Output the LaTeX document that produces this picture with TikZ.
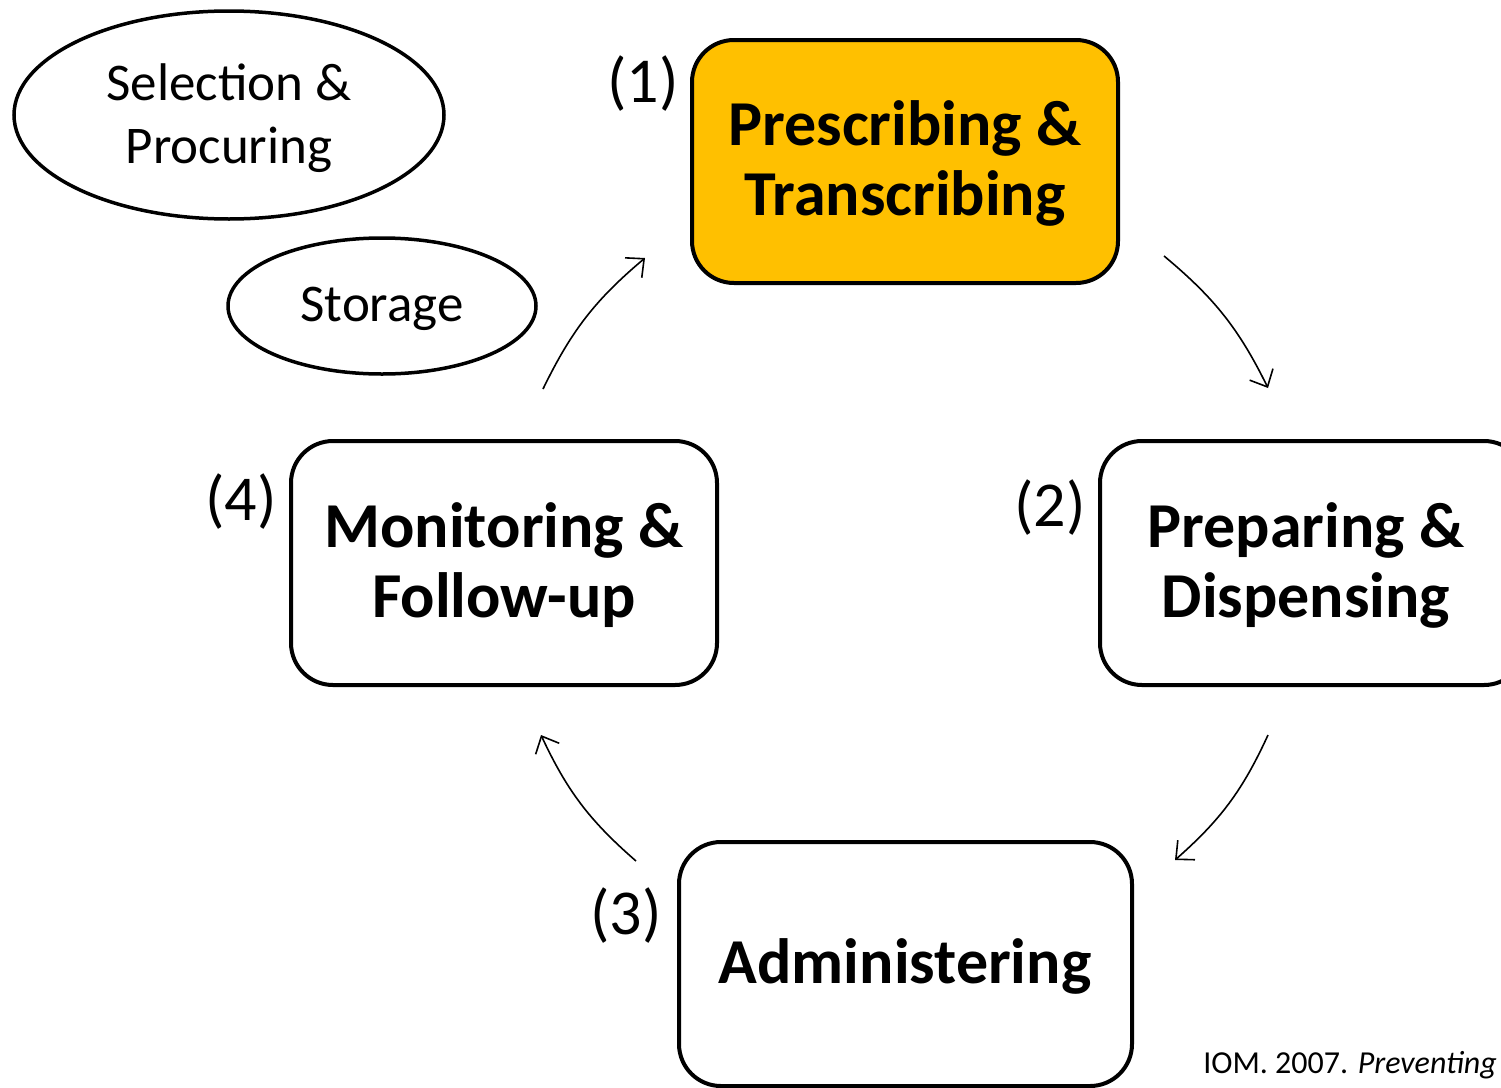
\documentclass[tikz,border=0pt]{standalone}
\usepackage{fontspec}
\setmainfont{Carlito}
\usetikzlibrary{arrows.meta,shapes.geometric}
\definecolor{gold}{HTML}{FFC000}
\tikzset{
  stepbox/.style={draw=black, line width=4pt, rounded corners=42pt, inner sep=0pt},
  boxtext/.style={font=\fontsize{64}{70}\selectfont\bfseries, align=center},
  oval/.style={draw=black, line width=3.5pt, ellipse, inner sep=0pt},
  ovaltext/.style={font=\fontsize{53}{63}\selectfont, align=center},
  numlab/.style={font=\fontsize{64}{70}\selectfont},
  flow/.style={line width=1.6pt, -{Straight Barb[length=14pt,width=26pt,line width=1.6pt]}},
}
\begin{document}
\begin{tikzpicture}[x=1pt,y=-1pt]
\useasboundingbox (0,0) rectangle (1501,1087);
\clip (0,0) rectangle (1501,1087);
% boxes
\node[stepbox, fill=gold, minimum width=426pt, minimum height=243pt] (p1) at (905,161.5) {};
\node[boxtext] (t1) at (905,163) {Prescribing \&\\Transcribing};
\node[stepbox, minimum width=426pt, minimum height=244pt] (p2) at (1313,563) {};
\node[boxtext] (t2) at (1306,565) {Preparing \&\\Dispensing};
\node[stepbox, minimum width=453pt, minimum height=244pt] (p3) at (905.5,964) {};
\node[boxtext] (t3) at (905,966) {Administering};
\node[stepbox, minimum width=426pt, minimum height=244pt] (p4) at (504,563) {};
\node[boxtext] (t4) at (504,565) {Monitoring \&\\Follow-up};
% ovals
\node[oval, minimum width=430pt, minimum height=208pt] (o1) at (229,115) {};
\node[ovaltext] (ot1) at (229,118) {Selection \&\\Procuring};
\node[oval, minimum width=308pt, minimum height=136pt] (o2) at (382,306) {};
\node[ovaltext] (ot2) at (382,309) {Storage};
% numbers
\node[numlab] (n1) at (643,84) {(1)};
\node[numlab] (n2) at (1050,508) {(2)};
\node[numlab] (n3) at (626,916) {(3)};
\node[numlab] (n4) at (241,502) {(4)};
% arrows
\coordinate (a1s) at (1164,256); \coordinate (a1e) at (1268,388);
\coordinate (a2s) at (1268,735); \coordinate (a2e) at (1175,860);
\coordinate (a3s) at (636,861);  \coordinate (a3e) at (541,735);
\coordinate (a4s) at (543,389);  \coordinate (a4e) at (645,258);
\draw[flow] (a1s) to[bend left=12] (a1e);
\draw[flow] (a2s) to[bend left=12] (a2e);
\draw[flow] (a3s) to[bend left=12] (a3e);
\draw[flow] (a4s) to[bend left=12] (a4e);
% citation
\node[anchor=base east, font=\fontsize{32}{36}\selectfont, inner sep=0pt] (cit) at (1497,1073) {IOM. 2007. \textit{Preventing}};
\end{tikzpicture}
\end{document}
